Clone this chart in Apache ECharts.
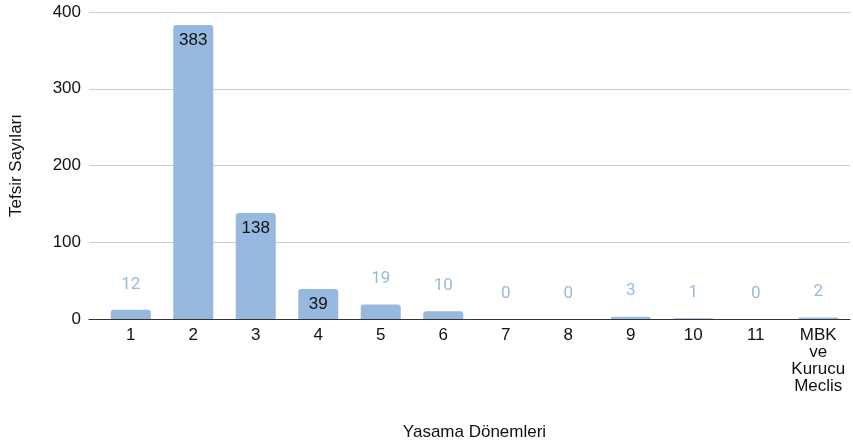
<!DOCTYPE html>
<html><head><meta charset="utf-8">
<script src="https://cdn.jsdelivr.net/npm/echarts@6/dist/echarts.min.js"></script>
<style>html,body{margin:0;padding:0;background:#fff}#c{width:853px;height:446px}</style>
</head><body><div id="c"></div>
<script>
const categories = ['1','2','3','4','5','6','7','8','9','10','11','MBK\nve\nKurucu\nMeclis'];
const values = [12,383,138,39,19,10,0,0,3,1,0,2];
const yTicks = [0,100,200,300,400];
const xTitle = 'Yasama Dönemleri';
const yTitle = 'Tefsir Sayıları';

const barColor = '#97b9e0';
const insideThreshold = 30;
const chart = echarts.init(document.getElementById('c'), null, {renderer:'canvas'});
const font = 'Liberation Sans, Arial, Helvetica, sans-serif';
const fs = 17;
chart.setOption({
  animation:false,
  backgroundColor:'#fff',
  textStyle:{fontFamily:font},
  grid:[
    {left:88,right:3,top:12,bottom:127},
    {left:99.5,right:3.5,top:12,bottom:127}
  ],
  xAxis:[
    {type:'value',gridIndex:0,min:0,max:1,axisLabel:{show:false},axisTick:{show:false},splitLine:{show:false},
     axisLine:{show:true,onZero:false,lineStyle:{color:'#333',width:1}}},
    {type:'category',gridIndex:1,data:categories,axisTick:{show:false},axisLine:{show:false},
     axisLabel:{color:'#111',fontSize:fs,fontFamily:font,margin:8,lineHeight:17,interval:0},
     name:xTitle,nameLocation:'middle',nameGap:105,nameTextStyle:{color:'#111',fontSize:fs,fontFamily:font}}
  ],
  yAxis:[
    {type:'value',gridIndex:0,min:0,max:400,interval:100,
     axisLine:{show:false},axisTick:{show:false},
     axisLabel:{color:'#111',fontSize:fs,fontFamily:font,margin:8},
     splitLine:{lineStyle:{color:'#cccccc',width:1}},
     name:yTitle,nameLocation:'middle',nameGap:64,nameRotate:90,
     nameTextStyle:{color:'#111',fontSize:fs,fontFamily:font}},
    {type:'value',gridIndex:1,min:0,max:400,interval:100,show:false}
  ],
  series:[{
    type:'bar',xAxisIndex:1,yAxisIndex:1,
    data:values.map(v=>({
      value:v,
      label: v>=insideThreshold
        ? {show:true,position:'insideTop',distance:7,color:'#111',fontSize:fs,fontFamily:font}
        : {show:true,position:'top',distance:17,color:barColor,fontSize:fs,fontFamily:'Roboto, sans-serif'}
    })),
    barWidth:40,
    itemStyle:{color:barColor,borderRadius:[3,3,0,0]}
  }]
});
</script></body></html>
